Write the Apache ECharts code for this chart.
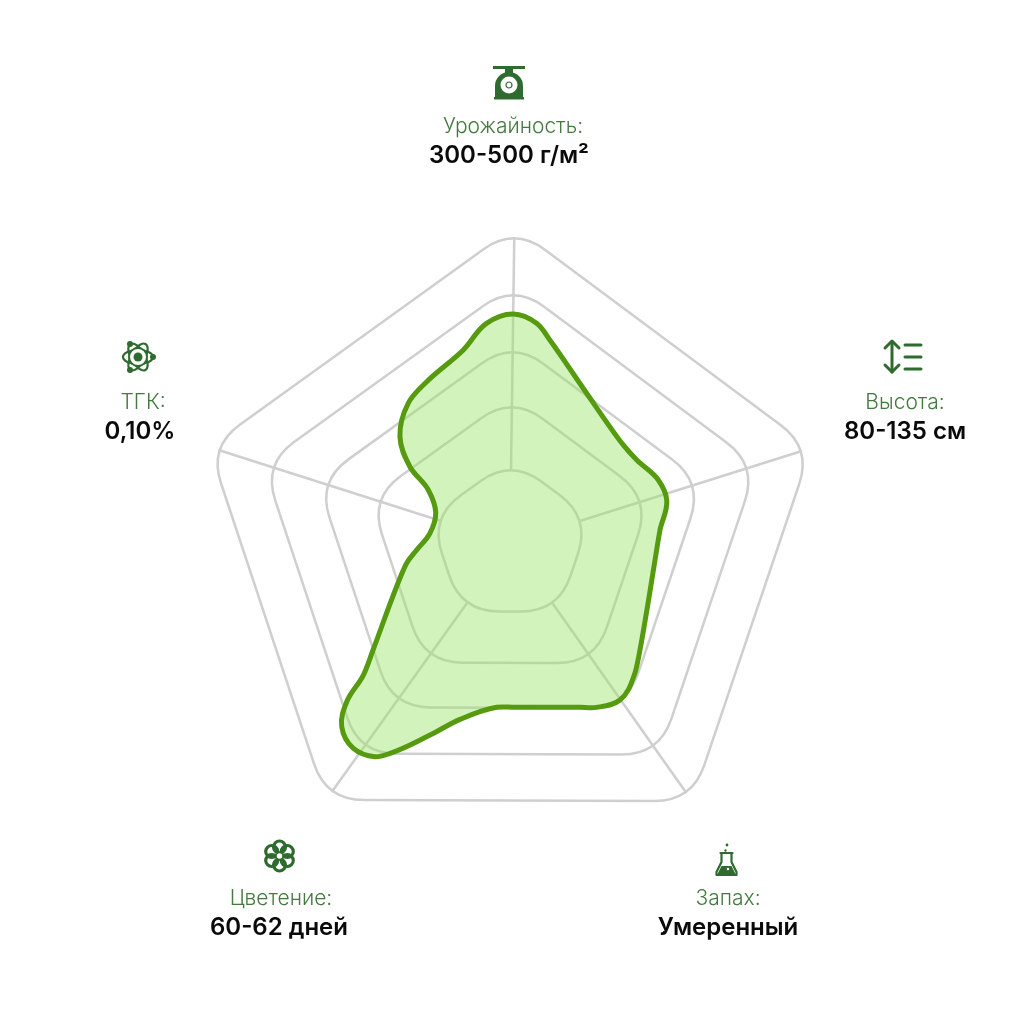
<!DOCTYPE html>
<html>
<head>
<meta charset="utf-8">
<title>Радар</title>
<style>
  html, body { margin: 0; padding: 0; background: #fff; }
  #chart { width: 1020px; height: 1020px; }
</style>
<script src="https://cdn.jsdelivr.net/npm/echarts@6/dist/echarts.min.js"></script>
</head>
<body>
<div id="chart"></div>
<script>
// axis captions
var axisNames = ['Урожайность:', 'Высота:', 'Запах:', 'Цветение:', 'ТГК:'];
var axisValues = ['300-500 г/м²', '80-135 см', 'Умеренный', '60-62 дней', '0,10%'];

// web: spoke directions (degrees clockwise from north) and ring radii
var spokeAngles = [0.8, 72.5, 144.8, 215.6, 287.7];
var ringRadii = [84, 147, 202, 259, 316];
var spokeStart = 74;
var spokeEnd = 306;

// the green outline
var outlineAngle = [167.4, 178.3, 184.6, 195.8, 202.6, 209.7, 212.3, 217.4, 222.5, 225.8, 228, 232, 259, 265.7, 277.1, 292, 303, 307.3, 314, 324, 332.7, 346.4, 353.9, 0.8, 6.9, 11.1, 27.1, 49.1, 56.8, 67, 74.7, 85, 136.1, 145, 152.2, 156.9];
var outlineRadius = [168.3, 164.4, 164.8, 183.3, 208, 242.1, 252.8, 258.3, 249.1, 227.7, 197.3, 173.8, 105.2, 93.6, 80.6, 80.1, 97.4, 125.8, 153, 173, 181.5, 198.6, 220.9, 229, 221.3, 206.9, 168.2, 149.8, 151.5, 161.1, 162.5, 150.6, 180.3, 191.7, 185.8, 178.6];

var GREEN = '#2f6b2f';
var CORNER = 38;

function toward(a, b, d) {
    var len = Math.sqrt((b[0] - a[0]) * (b[0] - a[0]) + (b[1] - a[1]) * (b[1] - a[1]));
    return [a[0] + (b[0] - a[0]) * d / len, a[1] + (b[1] - a[1]) * d / len];
}

// closed polygon with the corners rounded off
function roundedPath(pts, d) {
    var s = '';
    for (var i = 0; i < pts.length; i++) {
        var p = pts[i];
        var prev = pts[(i + pts.length - 1) % pts.length];
        var next = pts[(i + 1) % pts.length];
        var a = toward(p, prev, d);
        var b = toward(p, next, d);
        s += (i === 0 ? 'M' : 'L') + a[0] + ' ' + a[1] + 'Q' + p[0] + ' ' + p[1] + ' ' + b[0] + ' ' + b[1];
    }
    return s + 'Z';
}

// closed smooth curve through the points; handles are capped so long straight runs stay straight
function smoothPath(pts) {
    var n = pts.length;
    var tangents = pts.map(function (p, i) {
        var a = toward(p, pts[(i + n - 1) % n], 1);
        var b = toward(p, pts[(i + 1) % n], 1);
        return toward([0, 0], [b[0] - a[0], b[1] - a[1]], 1);
    });
    var s = 'M' + pts[0][0] + ' ' + pts[0][1];
    for (var i = 0; i < n; i++) {
        var j = (i + 1) % n;
        var dx = pts[j][0] - pts[i][0];
        var dy = pts[j][1] - pts[i][1];
        var h = Math.min(Math.sqrt(dx * dx + dy * dy) * 0.36, 16);
        s += 'C' + (pts[i][0] + tangents[i][0] * h) + ' ' + (pts[i][1] + tangents[i][1] * h) + ' ' +
            (pts[j][0] - tangents[j][0] * h) + ' ' + (pts[j][1] - tangents[j][1] * h) + ' ' +
            pts[j][0] + ' ' + pts[j][1];
    }
    return s + 'Z';
}

function renderRing(params, api) {
    var r = api.value(0);
    var pts = spokeAngles.map(function (ang) {
        return api.coord([r, ang]);
    });
    return {
        type: 'path',
        shape: {pathData: roundedPath(pts, CORNER)},
        style: {fill: 'none', stroke: '#cfcfcf', lineWidth: 2.5}
    };
}

function renderSpoke(params, api) {
    var ang = api.value(1);
    var a = api.coord([spokeStart, ang]);
    var b = api.coord([spokeEnd, ang]);
    return {
        type: 'line',
        shape: {x1: a[0], y1: a[1], x2: b[0], y2: b[1]},
        style: {stroke: '#cfcfcf', lineWidth: 2.5}
    };
}

// whole shape is one path, so it is built once on the first data item
function renderOutline(params, api) {
    if (params.dataIndex !== 0) return null;
    var pts = outlineAngle.map(function (ang, i) {
        return api.coord([outlineRadius[i], ang]);
    });
    return {
        type: 'path',
        shape: {pathData: smoothPath(pts)},
        style: {fill: 'rgba(150,228,100,0.43)', stroke: '#569a10', lineWidth: 5, lineJoin: 'round'}
    };
}

function caption(x, y, text, size, weight, color) {
    return {
        type: 'text',
        x: x,
        y: y,
        style: {
            text: text,
            fill: color,
            fontFamily: 'Inter, "Noto Sans", sans-serif',
            fontSize: size,
            fontWeight: weight,
            textAlign: 'center',
            textVerticalAlign: 'middle'
        }
    };
}

function stroked(shapeType, shape, width) {
    return {
        type: shapeType,
        shape: shape,
        style: {fill: 'none', stroke: GREEN, lineWidth: width || 3, lineCap: 'round', lineJoin: 'round'}
    };
}

function filled(shapeType, shape, color) {
    return {type: shapeType, shape: shape, style: {fill: color || GREEN}};
}

var scaleIcon = {
    type: 'group', x: 509, y: 83,
    children: [
        filled('rect', {x: -16, y: -17, width: 32, height: 3}),
        filled('rect', {x: -4, y: -14, width: 8, height: 5}),
        filled('rect', {x: -14, y: -11, width: 28, height: 26, r: [14, 14, 0, 0]}),
        filled('rect', {x: -15, y: 14, width: 30, height: 2.5}),
        filled('circle', {cx: 0, cy: 2, r: 8.5}, '#fff'),
        {type: 'circle', shape: {cx: 0, cy: 2, r: 3}, style: {fill: 'none', stroke: GREEN, lineWidth: 1.2}}
    ]
};

var heightIcon = {
    type: 'group', x: 903, y: 356,
    children: [
        stroked('line', {x1: -11, y1: -14, x2: -11, y2: 16}),
        stroked('polyline', {points: [[-18, -8], [-11, -15], [-4, -8]]}),
        stroked('polyline', {points: [[-18, 9], [-11, 16], [-4, 9]]}),
        stroked('line', {x1: 2, y1: -11, x2: 18, y2: -11}),
        stroked('line', {x1: 2, y1: 1, x2: 18, y2: 1}),
        stroked('line', {x1: 2, y1: 13, x2: 18, y2: 13})
    ]
};

var flaskIcon = {
    type: 'group', x: 726.5, y: 860,
    children: [
        stroked('polyline', {points: [[-5, -6], [-5, 2], [-10, 12], [-10, 15], [10, 15], [10, 12], [5, 2], [5, -6]]}, 2.2),
        stroked('line', {x1: -6, y1: -7, x2: 6, y2: -7}, 2.2),
        filled('polygon', {points: [[-5, 6], [5, 6], [9, 14], [-9, 14]]}),
        filled('circle', {cx: 1.5, cy: 9, r: 1.2}, '#fff'),
        filled('circle', {cx: -1, cy: -9.5, r: 1.2}),
        filled('circle', {cx: 0.5, cy: -15, r: 1.4})
    ]
};

var flowerChildren = [];
for (var p = 0; p < 6; p++) {
    var t = p * Math.PI / 3;
    flowerChildren.push({
        type: 'circle',
        shape: {cx: 9 * Math.sin(t), cy: -9 * Math.cos(t), r: 6},
        style: {fill: 'none', stroke: GREEN, lineWidth: 3.2}
    });
}
flowerChildren.push({type: 'circle', shape: {cx: 0, cy: 0, r: 3.5}, style: {fill: '#fff', stroke: GREEN, lineWidth: 1.5}});
var flowerIcon = {type: 'group', x: 279.5, y: 856, children: flowerChildren};

var atomChildren = [];
[0, 60, 120].forEach(function (deg) {
    atomChildren.push({
        type: 'ellipse',
        shape: {cx: 0, cy: 0, rx: 15, ry: 7},
        rotation: deg * Math.PI / 180,
        style: {fill: 'none', stroke: GREEN, lineWidth: 2.2}
    });
});
atomChildren.push({type: 'circle', shape: {cx: 0, cy: 0, r: 9}, style: {fill: '#fff', stroke: GREEN, lineWidth: 2}});
atomChildren.push(filled('circle', {cx: 0, cy: 0, r: 4.5}));
atomChildren.push(filled('circle', {cx: 15, cy: 0, r: 3}));
atomChildren.push(filled('circle', {cx: -8, cy: -13, r: 3}));
atomChildren.push(filled('circle', {cx: -8, cy: 13, r: 3}));
var atomIcon = {type: 'group', x: 138, y: 357, children: atomChildren};

// caption centres, same order as axisNames
var captionX = [513, 905, 728, 281, 143];
var captionY = [127, 403, 899, 899, 403];
var valueX = [509, 905, 728, 279, 140];

var graphics = [scaleIcon, heightIcon, flaskIcon, flowerIcon, atomIcon];
axisNames.forEach(function (name, i) {
    graphics.push(caption(captionX[i], captionY[i], name, 21, 300, '#44793f'));
    graphics.push(caption(valueX[i], captionY[i] + 29, axisValues[i], 24, 600, '#0a0a0a'));
});

var chart = echarts.init(document.getElementById('chart'));

chart.setOption({
    animation: false,
    backgroundColor: '#fff',
    polar: {center: [510, 543], radius: 320},
    angleAxis: {type: 'value', min: 0, max: 360, startAngle: 90, show: false},
    radiusAxis: {type: 'value', min: 0, max: 320, show: false},
    graphic: graphics,
    series: [
        {
            name: 'rings',
            type: 'custom',
            coordinateSystem: 'polar',
            renderItem: renderRing,
            silent: true,
            z: 1,
            data: ringRadii.map(function (r) { return [r, 0]; })
        },
        {
            name: 'spokes',
            type: 'custom',
            coordinateSystem: 'polar',
            renderItem: renderSpoke,
            silent: true,
            z: 1,
            data: spokeAngles.map(function (ang) { return [spokeEnd, ang]; })
        },
        {
            name: 'outline',
            type: 'custom',
            coordinateSystem: 'polar',
            renderItem: renderOutline,
            silent: true,
            z: 5,
            data: outlineAngle.map(function (ang, i) { return [outlineRadius[i], ang]; })
        }
    ]
});
</script>
</body>
</html>
